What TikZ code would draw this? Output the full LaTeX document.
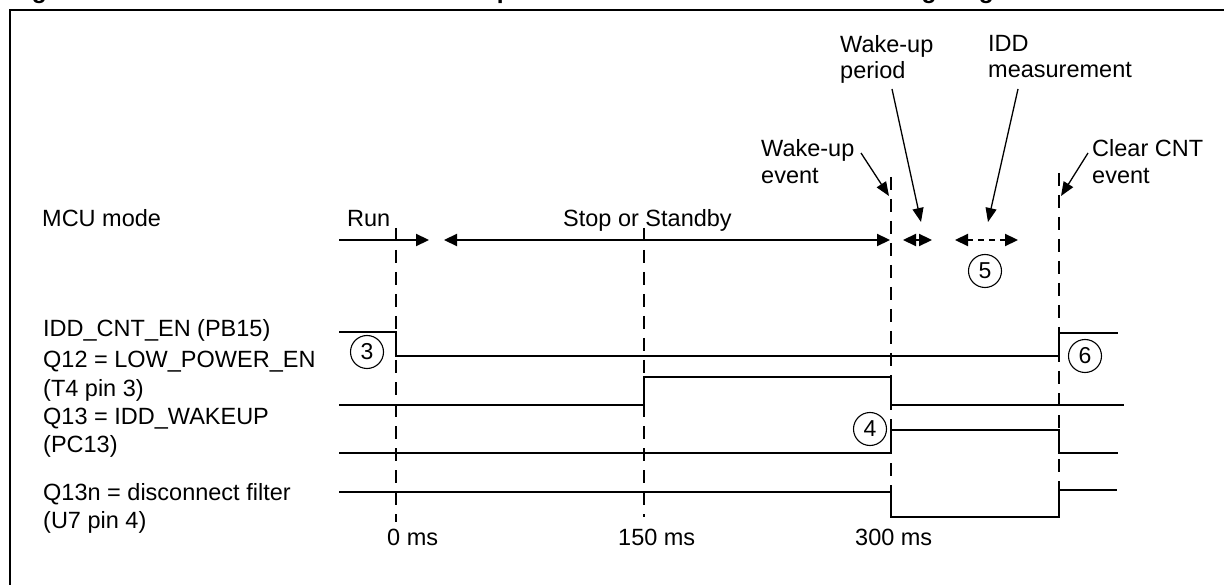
\documentclass[tikz,border=0pt]{standalone}
\usepackage{fontspec}
\setmainfont{Liberation Sans}
\usetikzlibrary{arrows.meta}
\begin{document}
\begin{tikzpicture}[x=1pt,y=-1pt,
  lbl/.style={anchor=base west,inner sep=0pt,font=\fontsize{23.5}{28}\selectfont},
  ttl/.style={anchor=base west,inner sep=0pt,font=\fontsize{24.5}{28}\selectfont\bfseries},
  sig/.style={line width=2.2pt},
  guide/.style={line width=2pt,dash pattern=on 13pt off 9pt},
  lead/.style={line width=1.3pt,-{Triangle[length=14pt,width=11pt]}},
  modearrow/.style={line width=2.2pt},
  tipR/.style={-{Triangle[length=13pt,width=12pt]}},
  tipLR/.style={{Triangle[length=13pt,width=12pt]}-{Triangle[length=13pt,width=12pt]}},
  num/.style={circle,draw,line width=1.1pt,inner sep=0pt,minimum size=33pt,font=\fontsize{23}{23}\selectfont}]
\useasboundingbox (0,0) rectangle (1224,585);
\clip (0,0) rectangle (1224,585);

% cut-off title and frame
\node[ttl] (t1) at (10,-1.5) {Figure 9.};
\node[ttl] (t2) at (441,-1.5) {Low power mode IDD measurement timing diagram};
\draw[line width=2.6pt] (10,600) -- (10,10) -- (1240,10);

% labels
\node[lbl] (mcu) at (42,227) {MCU mode};
\node[lbl] (run) at (347,227) {Run};
\node[lbl] (stop) at (563,227) {Stop or Standby};
\node[lbl] (l1) at (43,337) {IDD\_CNT\_EN (PB15)};
\node[lbl] (l2a) at (43,368) {Q12 = LOW\_POWER\_EN};
\node[lbl] (l2b) at (43,396) {(T4 pin 3)};
\node[lbl] (l3a) at (43,424) {Q13 = IDD\_WAKEUP};
\node[lbl] (l3b) at (43,452) {(PC13)};
\node[lbl] (l4a) at (43,500) {Q13n = disconnect filter};
\node[lbl] (l4b) at (43,528) {(U7 pin 4)};
\node[lbl] (ms0) at (387,545) {0 ms};
\node[lbl] (ms150) at (618,545) {150 ms};
\node[lbl] (ms300) at (855,545) {300 ms};

\node[lbl] (wea) at (761,157) {Wake-up};
\node[lbl] (web) at (761,184) {event};
\node[lbl] (wpa) at (840,53) {Wake-up};
\node[lbl] (wpb) at (840,79) {period};
\node[lbl] (ima) at (988,52) {IDD};
\node[lbl] (imb) at (988,78) {measurement};
\node[lbl] (cca) at (1092,157) {Clear CNT};
\node[lbl] (ccb) at (1092,184) {event};

% guide lines
\draw[guide] (396,228) -- (396,522);
\draw[guide] (644,228) -- (644,517);
\draw[guide] (891,177) -- (891,517);
\draw[guide] (1059,173) -- (1059,490);

% leader arrows
\coordinate (weTip) at (889,196);
\coordinate (wpTip) at (921,222);
\coordinate (imTip) at (988,222);
\coordinate (ccTip) at (1061,196);
\draw[lead] (861,153) -- (weTip);
\draw[lead] (892,89) -- (wpTip);
\draw[lead] (1018,89) -- (imTip);
\draw[lead] (1088,153) -- (ccTip);

% MCU mode arrows
\draw[modearrow,tipR] (339,240) -- (429,240);
\draw[modearrow,tipLR] (444,240) -- (890,240);
\draw[modearrow,tipLR] (903,240) -- (932,240);
\draw[modearrow,tipLR,dash pattern=on 6pt off 5pt] (955,240) -- (1018,240);

% signals
\draw[sig] (339,332) -- (396,332) -- (396,356) -- (1059,356) -- (1059,333) -- (1118,333);
\draw[sig] (339,405) -- (644,405) -- (644,377) -- (891,377) -- (891,405) -- (1124,405);
\draw[sig] (339,453) -- (891,453) -- (891,430) -- (1059,430) -- (1059,453) -- (1118,453);
\draw[sig] (339,492) -- (891,492) -- (891,517) -- (1059,517) -- (1059,490) -- (1117,490);

% circled numbers
\node[num] (n3) at (367,352) {3};
\node[num] (n4) at (870,429) {4};
\node[num] (n5) at (985,271) {5};
\node[num] (n6) at (1085,356) {6};
\end{tikzpicture}
\end{document}
